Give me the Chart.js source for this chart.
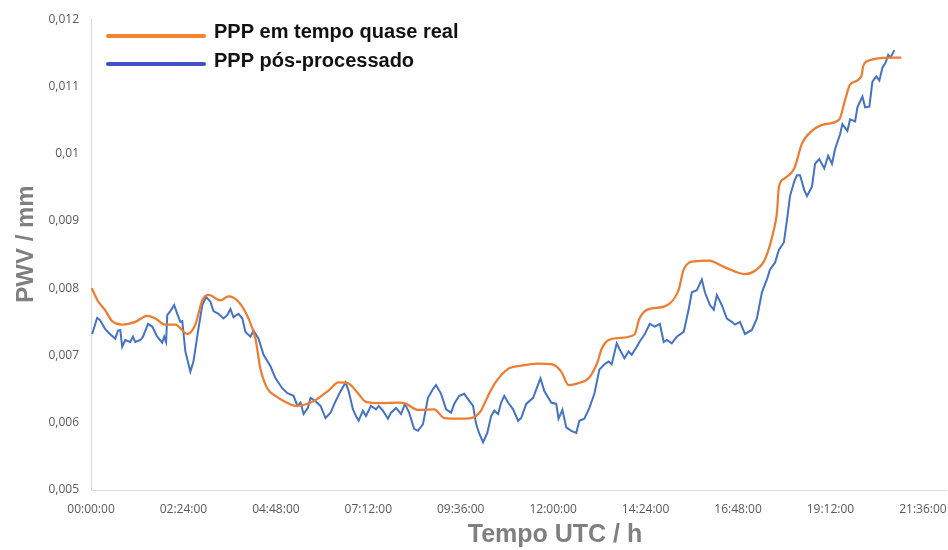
<!DOCTYPE html>
<html>
<head>
<meta charset="utf-8">
<title>PWV</title>
<script src="https://cdn.jsdelivr.net/npm/chart.js@4.4.1/dist/chart.umd.min.js"></script>
<style>
  html, body { margin: 0; padding: 0; background: #fff; }
  #chart { display: block; }
</style>
</head>
<body>
<canvas id="chart" width="948" height="550"></canvas>
<script>
// hours UTC and PWV
const realTimeHours = [0.02, 0.18, 0.36, 0.55, 0.81, 1.15, 1.46, 1.67, 1.93, 2.19, 2.50, 2.71, 2.89, 3.05, 3.36, 3.57, 3.83, 4.09, 4.27, 4.40, 4.58, 4.79, 5.05, 5.31, 5.78, 6.15, 6.43, 6.67, 6.93, 7.14, 7.53, 7.97, 8.18, 8.49, 8.91, 9.17, 9.53, 9.87, 10.13, 10.21, 10.47, 10.83, 11.17, 11.61, 11.95, 12.21, 12.40, 12.66, 12.92, 13.15, 13.26, 13.44, 13.70, 14.11, 14.24, 14.48, 14.90, 15.26, 15.39, 15.68, 16.04, 16.46, 16.98, 17.24, 17.50, 17.73, 17.81, 17.86, 18.00, 18.26, 18.46, 18.72, 19.06, 19.43, 19.58, 19.71, 20.00, 20.05, 20.13, 20.75, 21.04];
const realTimePwv = [0.00800, 0.00781, 0.00768, 0.00751, 0.00746, 0.00750, 0.00759, 0.00755, 0.00746, 0.00746, 0.00732, 0.00746, 0.00782, 0.00790, 0.00782, 0.00788, 0.00780, 0.00755, 0.00725, 0.00680, 0.00651, 0.00640, 0.00631, 0.00625, 0.00632, 0.00647, 0.00660, 0.00659, 0.00644, 0.00631, 0.00629, 0.00630, 0.00628, 0.00619, 0.00620, 0.00607, 0.00606, 0.00607, 0.00618, 0.00628, 0.00657, 0.00680, 0.00685, 0.00688, 0.00687, 0.00676, 0.00656, 0.00659, 0.00666, 0.00690, 0.00710, 0.00723, 0.00726, 0.00731, 0.00755, 0.00769, 0.00773, 0.00798, 0.00828, 0.00840, 0.00841, 0.00831, 0.00821, 0.00826, 0.00843, 0.00887, 0.00912, 0.00950, 0.00963, 0.00978, 0.01015, 0.01034, 0.01044, 0.01051, 0.01080, 0.01103, 0.01115, 0.01130, 0.01137, 0.01143, 0.01143];

const postHours = [0.03, 0.16, 0.23, 0.36, 0.49, 0.63, 0.70, 0.76, 0.81, 0.89, 1.02, 1.09, 1.15, 1.28, 1.35, 1.48, 1.59, 1.72, 1.85, 1.90, 1.95, 1.98, 2.06, 2.16, 2.24, 2.32, 2.37, 2.45, 2.58, 2.66, 2.79, 2.89, 2.99, 3.10, 3.18, 3.31, 3.44, 3.54, 3.62, 3.70, 3.83, 3.93, 4.01, 4.14, 4.22, 4.35, 4.48, 4.66, 4.79, 4.97, 5.10, 5.26, 5.36, 5.44, 5.52, 5.63, 5.70, 5.83, 5.96, 6.09, 6.22, 6.35, 6.48, 6.61, 6.69, 6.80, 6.88, 6.95, 7.06, 7.14, 7.27, 7.40, 7.47, 7.58, 7.71, 7.79, 7.92, 8.05, 8.15, 8.26, 8.39, 8.49, 8.62, 8.75, 8.88, 8.96, 9.09, 9.22, 9.35, 9.43, 9.56, 9.69, 9.79, 9.92, 10.00, 10.08, 10.18, 10.29, 10.39, 10.47, 10.57, 10.65, 10.73, 10.83, 10.96, 11.09, 11.17, 11.30, 11.48, 11.61, 11.67, 11.77, 11.95, 12.08, 12.14, 12.24, 12.34, 12.47, 12.60, 12.68, 12.81, 12.94, 13.07, 13.20, 13.33, 13.44, 13.52, 13.65, 13.72, 13.85, 13.96, 14.04, 14.17, 14.24, 14.38, 14.51, 14.64, 14.77, 14.87, 14.95, 15.08, 15.21, 15.39, 15.52, 15.60, 15.73, 15.86, 15.94, 16.07, 16.17, 16.25, 16.38, 16.51, 16.64, 16.72, 16.85, 16.98, 17.16, 17.29, 17.42, 17.55, 17.63, 17.76, 17.86, 17.99, 18.07, 18.15, 18.26, 18.33, 18.41, 18.52, 18.59, 18.72, 18.80, 18.91, 19.04, 19.14, 19.24, 19.32, 19.45, 19.51, 19.64, 19.71, 19.84, 19.90, 20.03, 20.10, 20.21, 20.29, 20.39, 20.47, 20.55, 20.63, 20.70, 20.76, 20.86];
const postPwv = [0.00732, 0.00756, 0.00753, 0.00740, 0.00732, 0.00725, 0.00737, 0.00738, 0.00713, 0.00723, 0.00720, 0.00728, 0.00720, 0.00723, 0.00728, 0.00747, 0.00743, 0.00728, 0.00719, 0.00728, 0.00720, 0.00760, 0.00766, 0.00775, 0.00762, 0.00750, 0.00751, 0.00706, 0.00676, 0.00691, 0.00740, 0.00775, 0.00787, 0.00780, 0.00766, 0.00762, 0.00755, 0.00760, 0.00769, 0.00757, 0.00762, 0.00755, 0.00735, 0.00728, 0.00737, 0.00725, 0.00701, 0.00684, 0.00666, 0.00651, 0.00644, 0.00640, 0.00625, 0.00630, 0.00613, 0.00622, 0.00637, 0.00632, 0.00625, 0.00607, 0.00615, 0.00632, 0.00647, 0.00660, 0.00647, 0.00620, 0.00610, 0.00603, 0.00618, 0.00610, 0.00625, 0.00620, 0.00625, 0.00618, 0.00606, 0.00615, 0.00622, 0.00613, 0.00628, 0.00615, 0.00591, 0.00588, 0.00598, 0.00637, 0.00650, 0.00656, 0.00643, 0.00620, 0.00615, 0.00628, 0.00640, 0.00643, 0.00635, 0.00625, 0.00598, 0.00584, 0.00571, 0.00585, 0.00610, 0.00618, 0.00613, 0.00630, 0.00640, 0.00630, 0.00620, 0.00603, 0.00607, 0.00628, 0.00637, 0.00657, 0.00666, 0.00647, 0.00630, 0.00628, 0.00606, 0.00619, 0.00593, 0.00588, 0.00585, 0.00603, 0.00606, 0.00622, 0.00643, 0.00679, 0.00687, 0.00691, 0.00687, 0.00718, 0.00710, 0.00696, 0.00706, 0.00701, 0.00713, 0.00720, 0.00732, 0.00747, 0.00743, 0.00747, 0.00720, 0.00723, 0.00718, 0.00728, 0.00735, 0.00769, 0.00794, 0.00797, 0.00813, 0.00794, 0.00775, 0.00768, 0.00790, 0.00775, 0.00755, 0.00750, 0.00746, 0.00750, 0.00732, 0.00738, 0.00755, 0.00794, 0.00813, 0.00828, 0.00838, 0.00857, 0.00868, 0.00901, 0.00937, 0.00959, 0.00968, 0.00968, 0.00946, 0.00937, 0.00951, 0.00985, 0.00992, 0.00978, 0.00997, 0.00985, 0.01007, 0.01029, 0.01044, 0.01034, 0.01051, 0.01048, 0.01069, 0.01085, 0.01069, 0.01070, 0.01107, 0.01115, 0.01109, 0.01128, 0.01135, 0.01147, 0.01143, 0.01154];

const seriesNames = ['PPP em tempo quase real', 'PPP pós-processado'];
const xMin = 0, xMax = 22.2, xStep = 2.4;
const yMin = 0.005, yMax = 0.012, yStep = 0.001;

const ORANGE = '#ED7D31';
const BLUE = '#4472C4';
const AXIS_GRAY = '#d9d9d9';
const TICK_GRAY = '#595959';
const TITLE_GRAY = '#7f7f7f';

function toPoints(xs, ys) {
  return xs.map((x, i) => ({ x: x, y: ys[i] }));
}

function formatHours(v) {
  const total = Math.round(v * 60);
  const h = Math.floor(total / 60).toString().padStart(2, '0');
  const m = (total % 60).toString().padStart(2, '0');
  return `${h}:${m}:00`;
}

function formatPwv(v) {
  return String(Number(v.toFixed(3))).replace('.', ',');
}

const overlay = {
  id: 'overlay',
  afterDraw(chart) {
    const ctx = chart.ctx;
    ctx.save();

    // legend
    ctx.lineCap = 'round';
    ctx.lineWidth = 4;
    ctx.strokeStyle = '#F5822C';
    ctx.beginPath(); ctx.moveTo(108, 36); ctx.lineTo(204, 36); ctx.stroke();
    ctx.strokeStyle = '#4150C6';
    ctx.beginPath(); ctx.moveTo(108, 64); ctx.lineTo(204, 64); ctx.stroke();
    ctx.fillStyle = '#111';
    ctx.font = 'bold 20px "Liberation Sans", Arial, sans-serif';
    ctx.textAlign = 'left';
    ctx.textBaseline = 'alphabetic';
    ctx.fillText(seriesNames[0], 214, 38);
    ctx.fillText(seriesNames[1], 214, 67);

    // axis titles
    ctx.fillStyle = TITLE_GRAY;
    ctx.font = 'bold 25px "Liberation Sans", Arial, sans-serif';
    ctx.textAlign = 'center';
    ctx.fillText('Tempo UTC / h', 555, 542);
    ctx.font = 'bold 24px "Liberation Sans", Arial, sans-serif';
    ctx.translate(33, 244);
    ctx.rotate(-Math.PI / 2);
    ctx.fillText('PWV / mm', 0, 0);

    ctx.restore();
  }
};

new Chart(document.getElementById('chart'), {
  type: 'line',
  data: {
    datasets: [
      {
        label: seriesNames[0],
        data: toPoints(realTimeHours, realTimePwv),
        borderColor: ORANGE,
        borderWidth: 2.25,
        pointRadius: 0,
        tension: 0.4,
        cubicInterpolationMode: 'monotone'
      },
      {
        label: seriesNames[1],
        data: toPoints(postHours, postPwv),
        borderColor: BLUE,
        borderWidth: 2,
        pointRadius: 0,
        tension: 0
      }
    ]
  },
  options: {
    responsive: false,
    animation: false,
    devicePixelRatio: 1,
    layout: { padding: { top: 14, right: 2, left: 0, bottom: 0 } },
    plugins: {
      legend: { display: false },
      tooltip: { enabled: false }
    },
    scales: {
      x: {
        type: 'linear',
        min: xMin,
        max: xMax,
        afterFit: s => { s.height = 60; s.paddingLeft = 0; s.paddingRight = 0; },
        grid: { display: false, drawTicks: false },
        border: { display: true, color: AXIS_GRAY, width: 1 },
        ticks: {
          stepSize: xStep,
          includeBounds: false,
          maxRotation: 0,
          autoSkip: false,
          padding: 12,
          color: TICK_GRAY,
          font: { family: '"Open Sans", sans-serif', size: 12 },
          callback: v => formatHours(v)
        }
      },
      y: {
        min: yMin,
        max: yMax,
        afterFit: s => { s.width = 91; },
        grid: { display: false, drawTicks: false },
        border: { display: true, color: AXIS_GRAY, width: 1 },
        ticks: {
          stepSize: yStep,
          padding: 12,
          color: TICK_GRAY,
          font: { family: '"Open Sans", sans-serif', size: 12 },
          callback: v => formatPwv(v)
        }
      }
    }
  },
  plugins: [overlay]
});
</script>
</body>
</html>
